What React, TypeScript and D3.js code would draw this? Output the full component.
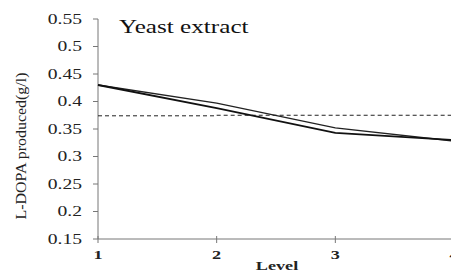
import * as d3 from 'd3';

// levels on the x axis
const levels = [1, 2, 3, 4];
// two response curves
const seriesA = [0.43, 0.397, 0.352, 0.328];
const seriesB = [0.43, 0.388, 0.343, 0.33];
// grand mean (dashed reference)
const meanLine = [0.374, 0.375];
const yTicks = [0.15, 0.2, 0.25, 0.3, 0.35, 0.4, 0.45, 0.5, 0.55];
const yTickLabels = ['0.15', '0.2', '0.25', '0.3', '0.35', '0.4', '0.45', '0.5', '0.55'];

const W = 451;
const H = 270;
// the source image is stretched sideways, so text is widened
const SX = 1.4;

export default function App() {
  const x = d3.scaleLinear().domain([1, 4]).range([98, 454]);
  const y = d3.scaleLinear().domain([0.15, 0.55]).range([239, 19]);

  const line = d3.line<number>()
    .x((_, i) => x(levels[i]))
    .y(d => y(d));

  const serif = { fontFamily: "'Liberation Serif', 'DejaVu Serif', serif" };

  return (
    <svg width={W} height={H} style={{ position: 'absolute', left: 0, top: 0, background: '#fff' }}>
      {/* y axis */}
      <line x1={x(1)} x2={x(1)} y1={y(0.55)} y2={y(0.15)} stroke="#777" strokeWidth={1} />
      {yTicks.map((t, i) => (
        <g key={t}>
          <line x1={x(1) - 5} x2={x(1)} y1={y(t)} y2={y(t)} stroke="#777" strokeWidth={1} />
          <g transform={`translate(${x(1) - 16},${y(t)}) scale(${SX},1)`}>
            <text dy="0.35em" textAnchor="end" style={serif} fontSize={14} fill="#222">
              {yTickLabels[i]}
            </text>
          </g>
        </g>
      ))}
      {/* x axis */}
      <line x1={x(1)} x2={W} y1={y(0.15)} y2={y(0.15)} stroke="#777" strokeWidth={1} />
      {levels.map(l => (
        <g key={l}>
          <line x1={x(l)} x2={x(l)} y1={y(0.15) - 3} y2={y(0.15) + 4} stroke="#777" strokeWidth={1} />
          <g transform={`translate(${x(l)},259) scale(${SX},1)`}>
            <text textAnchor="middle" style={serif} fontWeight="bold" fontSize={13} fill="#222">
              {l}
            </text>
          </g>
        </g>
      ))}
      <g transform={`translate(277,270) scale(${SX},1)`}>
        <text textAnchor="middle" style={serif} fontWeight="bold" fontSize={13} fill="#222">
          Level
        </text>
      </g>
      <text
        transform={`translate(26, 146) rotate(-90)`}
        textAnchor="middle"
        style={serif}
        fontSize={15}
        textLength={147}
        lengthAdjust="spacingAndGlyphs"
        fill="#222"
      >
        L-DOPA produced(g/l)
      </text>
      <g transform={`translate(119,33) scale(${SX},1)`}>
        <text style={serif} fontSize={18} fill="#111">
          Yeast extract
        </text>
      </g>
      {/* dashed mean line */}
      <line x1={x(1)} x2={x(2)} y1={y(meanLine[0])} y2={y(meanLine[0])} stroke="#222" strokeWidth={1} strokeDasharray="4,3" />
      <line x1={x(2)} x2={W} y1={y(meanLine[1])} y2={y(meanLine[1])} stroke="#222" strokeWidth={1} strokeDasharray="4,3" />
      <path d={line(seriesA) || ''} fill="none" stroke="#222" strokeWidth={1.4} />
      <path d={line(seriesB) || ''} fill="none" stroke="#111" strokeWidth={1.8} />
    </svg>
  );
}
